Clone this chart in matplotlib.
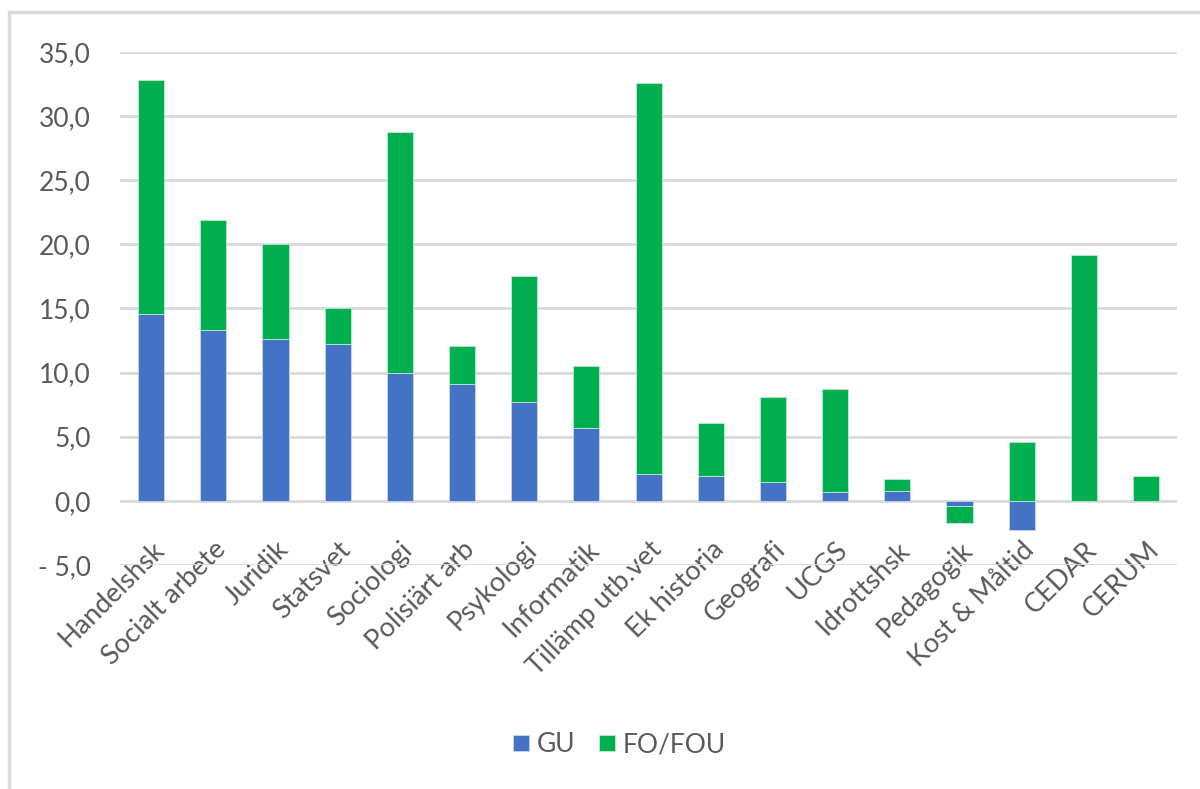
import numpy as np
import matplotlib
matplotlib.use("Agg")
import matplotlib.pyplot as plt
from matplotlib.patches import Rectangle
from matplotlib.transforms import ScaledTranslation

plt.rcParams['font.family'] = ['Lato', 'DejaVu Sans']

categories = ['Handelshsk', 'Socialt arbete', 'Juridik', 'Statsvet', 'Sociologi',
              'Polisiärt arb', 'Psykologi', 'Informatik', 'Tillämp utb.vet',
              'Ek historia', 'Geografi', 'UCGS', 'Idrottshsk', 'Pedagogik',
              'Kost & Måltid', 'CEDAR', 'CERUM']
gu = [14.6, 13.3, 12.6, 12.2, 10.0, 9.1, 7.7, 5.7, 2.1, 1.9, 1.5, 0.7, 0.8,
      -0.4, -2.3, 0.0, 0.0]
fo = [18.2, 8.6, 7.4, 2.8, 18.8, 3.0, 9.8, 4.8, 30.5, 4.2, 6.6, 8.0, 0.9,
      -1.3, 4.6, 19.2, 1.9]
yticks = [-5, 0, 5, 10, 15, 20, 25, 30, 35]
ytick_labels = ['- 5,0', '0,0', '5,0', '10,0', '15,0', '20,0', '25,0', '30,0', '35,0']

blue = '#4472C4'
green = '#00B050'
txt = '#595959'

gu = np.array(gu)
fo = np.array(fo)
# stack negative on negative, positive on positive
bottom = np.where(np.sign(gu) == np.sign(fo), gu, 0)

fig = plt.figure(figsize=(12, 7.89), dpi=100)
ax = fig.add_axes([0.100, 0.284, 0.881, 0.650])
# category axis crosses at 0, like in Excel (set first: it resets the axis)
ax.spines['bottom'].set_position(('data', 0))

x = np.arange(len(categories))
ax.bar(x, gu, width=0.42, color=blue, label='GU', zorder=3, edgecolor='#c9d6ef', linewidth=0.6)
ax.bar(x, fo, width=0.42, bottom=bottom, color=green, label='FO/FOU', zorder=3,
       edgecolor='#bfe9cf', linewidth=0.6)

ax.set_xlim(-0.5, len(categories) - 0.5)
ax.set_ylim(-5, 35)
ax.set_yticks(yticks)
ax.set_yticklabels(ytick_labels, fontsize=19, color=txt)
ax.set_xticks(x)
ax.set_xticklabels(categories, rotation=45, ha='right', rotation_mode='anchor',
                   fontsize=19.5, color=txt)
shift = ScaledTranslation(-2 / 100, 0, fig.dpi_scale_trans)
for lab in ax.get_xticklabels():
    lab.set_transform(lab.get_transform() + shift)
ax.tick_params(axis='both', length=0)
ax.tick_params(axis='y', pad=21)
ax.tick_params(axis='x', pad=26)
ax.yaxis.grid(True, color='#d9d9d9', linewidth=2, zorder=0)
ax.set_axisbelow(True)
for s in ax.spines.values():
    s.set_visible(False)

leg = fig.legend(loc='center', bbox_to_anchor=(0.516, 0.056), ncol=2, frameon=False,
                 fontsize=19, handlelength=0.6, handleheight=0.6, handletextpad=0.3,
                 columnspacing=0.9)
for t in leg.get_texts():
    t.set_color(txt)

# chart area frame (left and top edges visible)
fig.patches.append(Rectangle((0.0072, -0.05), 1.1, 1.035, transform=fig.transFigure,
                             fill=False, edgecolor='#d9d9d9', linewidth=2.5))

fig.savefig('out.png', dpi=100, facecolor='white')
